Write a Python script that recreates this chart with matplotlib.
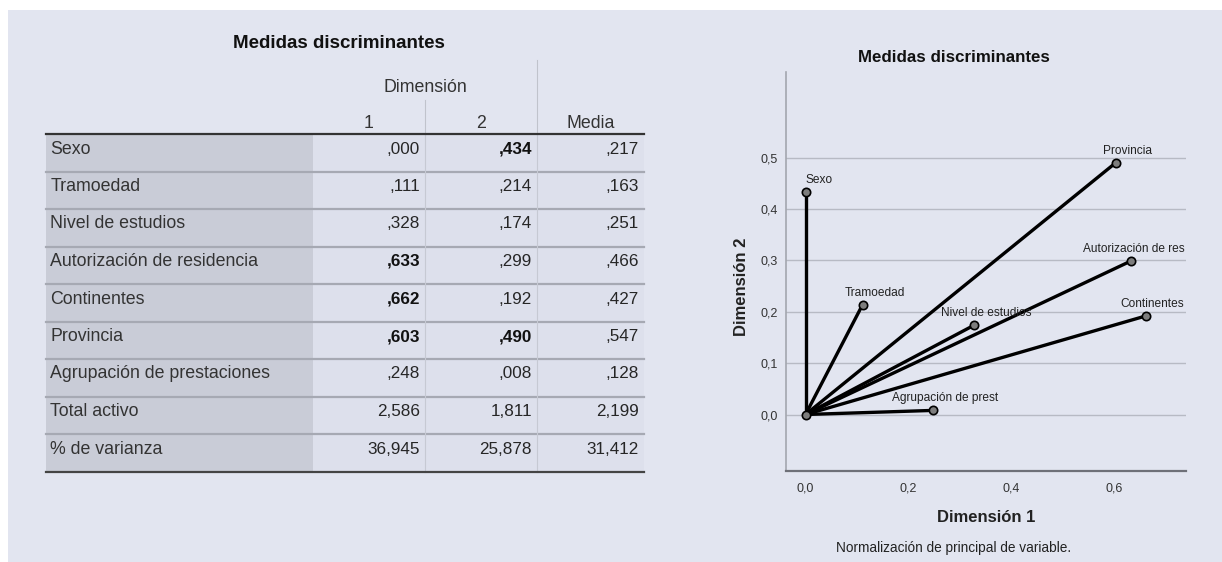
import matplotlib
matplotlib.use("Agg")
import matplotlib.pyplot as plt
from matplotlib.patches import Rectangle

# ---------------- data ----------------
row_labels = ["Sexo", "Tramoedad", "Nivel de estudios", "Autorización de residencia",
              "Continentes", "Provincia", "Agrupación de prestaciones"]
dim1 = [0.000, 0.111, 0.328, 0.633, 0.662, 0.603, 0.248]
dim2 = [0.434, 0.214, 0.174, 0.299, 0.192, 0.490, 0.008]
media = [0.217, 0.163, 0.251, 0.466, 0.427, 0.547, 0.128]
total_activo = [2.586, 1.811, 2.199]
pct_varianza = [36.945, 25.878, 31.412]
col_headers = ["1", "2", "Media"]
point_labels = ["Sexo", "Tramoedad", "Nivel de estudios", "Autorización de res",
                "Continentes", "Provincia", "Agrupación de prest"]
xticks = [0.0, 0.2, 0.4, 0.6]
yticks = [0.0, 0.1, 0.2, 0.3, 0.4, 0.5]

FONT = ["Liberation Sans", "DejaVu Sans"]
plt.rcParams['font.family'] = FONT

W, H = 1222, 562
fig = plt.figure(figsize=(W / 100, H / 100), dpi=100, facecolor="white")

# background / table axes in pixel coordinates
bg = fig.add_axes([0, 0, 1, 1])
bg.set_xlim(0, W)
bg.set_ylim(H, 0)
bg.axis("off")
bg.add_patch(Rectangle((8, 10), W - 8, H - 10, color="#e2e5f0", lw=0, zorder=0))


def fmt(v):
    s = f"{v:.3f}".replace(".", ",")
    if s.startswith("0,"):
        s = s[1:]
    return s


tx0, tlab, tc1, tc2, tx1 = 45.5, 313, 425, 537, 644
top, rh = 134, 37.5
rows = row_labels + ["Total activo", "% de varianza"]
n = len(rows)
bottom = top + n * rh

bg.add_patch(Rectangle((tx0, top), tlab - tx0, n * rh, color="#c9ccd7", lw=0, zorder=1))
bg.add_patch(Rectangle((tlab, top), tx1 - tlab, n * rh, color="#dde0ec", lw=0, zorder=1))

for i in range(1, n):
    y = top + i * rh
    bg.plot([tx0, tx1], [y, y], color="#a6a9b3", lw=1.6, zorder=2)
bg.plot([tx0, tx1], [top, top], color="#333333", lw=1.6, zorder=3)
bg.plot([tx0, tx1], [bottom, bottom], color="#444444", lw=1.6, zorder=3)
for xc in (tc1, tc2):
    bg.plot([xc, xc], [top, bottom], color="#c6c9d3", lw=0.8, zorder=2)
bg.plot([tc2, tc2], [60, top], color="#c0c3cc", lw=0.8, zorder=2)
bg.plot([tc1, tc1], [100, top], color="#c0c3cc", lw=0.8, zorder=2)

tc = "#262626"
fs_lab = 12.8
fs_num = 12.3
bg.text(339, 43, "Medidas discriminantes", ha="center", va="center",
        fontsize=13.5, fontweight="bold", color="#111111")
bg.text((tlab + tc2) / 2, 87, "Dimensión", ha="center", va="center", fontsize=fs_lab, color="#333333")
for xc_center, h in zip([(tlab + tc1) / 2, (tc1 + tc2) / 2, (tc2 + tx1) / 2], col_headers):
    bg.text(xc_center, 123, h, ha="center", va="center", fontsize=fs_lab, color="#333333")

col_right = [tc1 - 5, tc2 - 5, tx1 - 5]
for i, lab in enumerate(rows):
    yc = top + i * rh + 15
    bg.text(tx0 + 5, yc, lab, ha="left", va="center", fontsize=fs_lab, color="#333333")
    if i < len(row_labels):
        vals = [dim1[i], dim2[i], media[i]]
        for j, v in enumerate(vals):
            bold = (j < 2 and v > 0.4)
            bg.text(col_right[j], yc, fmt(v), ha="right", va="center", fontsize=fs_num,
                    color="#111111" if bold else tc, fontweight="bold" if bold else "normal")
    else:
        vals = total_activo if lab == "Total activo" else pct_varianza
        for j, v in enumerate(vals):
            bg.text(col_right[j], yc, fmt(v), ha="right", va="center", fontsize=fs_num, color=tc)

# ---------------- chart ----------------
L, R, T, B = 786, 1186, 72, 471
ax = fig.add_axes([L / W, 1 - B / H, (R - L) / W, (B - T) / H])
ax.set_facecolor("none")
ax.set_xlim(-0.038, 0.740)
ax.set_ylim(-0.110, 0.667)
ax.set_xticks(xticks)
ax.set_yticks(yticks)
ax.set_xticklabels([f"{t:.1f}".replace(".", ",") for t in xticks])
ax.set_yticklabels([f"{t:.1f}".replace(".", ",") for t in yticks])
ax.tick_params(length=0, labelsize=9, colors="#333333", pad=6)
ax.tick_params(axis="x", pad=8)
for s in ("top", "right"):
    ax.spines[s].set_visible(False)
ax.spines["left"].set_color("#a3a6ae")
ax.spines["left"].set_linewidth(1.2)
ax.spines["bottom"].set_color("#6e7078")
ax.spines["bottom"].set_linewidth(1.6)
ax.grid(axis="y", color="#b7bac4", lw=1)
ax.set_axisbelow(True)

for x, y in zip(dim1, dim2):
    ax.plot([0, x], [0, y], color="black", lw=2.4, solid_capstyle="round", zorder=3)
ax.plot(dim1, dim2, "o", ms=6, mfc="#7d7d7d", mec="black", mew=1.2, zorder=4)
ax.plot([0], [0], "o", ms=6, mfc="#7d7d7d", mec="black", mew=1.2, zorder=4)

label_ha = ["left", "center", "center", "right", "right", "center", "center"]
lfs = 8.6
for lab, x, y, ha in zip(point_labels, dim1, dim2, label_ha):
    if ha == "left":
        ax.annotate(lab, (x, y), xytext=(0, 12), textcoords="offset pixels",
                    ha="left", va="center", fontsize=lfs, color="#222222", zorder=5)
    elif ha == "right":
        ax.annotate(lab, (0.737, y), xytext=(0, 12), textcoords="offset pixels",
                    ha="right", va="center", fontsize=lfs, color="#222222", zorder=5)
    else:
        ax.annotate(lab, (x, y), xytext=(12, 12), textcoords="offset pixels",
                    ha="center", va="center", fontsize=lfs, color="#222222", zorder=5)

fig.text(954 / W, 1 - 58 / H, "Medidas discriminantes", ha="center", va="center",
         fontsize=12.2, fontweight="bold", color="#111111")
fig.text(741 / W, 1 - 287 / H, "Dimensión 2", ha="center", va="center", rotation=90,
         fontsize=12, fontweight="bold", color="#222222")
fig.text(986 / W, 1 - 517 / H, "Dimensión 1", ha="center", va="center",
         fontsize=12, fontweight="bold", color="#222222")
fig.text(954 / W, 1 - 548 / H, "Normalización de principal de variable.", ha="center",
         va="center", fontsize=9.8, color="#222222")

fig.savefig("out.png", dpi=100, facecolor="white")
